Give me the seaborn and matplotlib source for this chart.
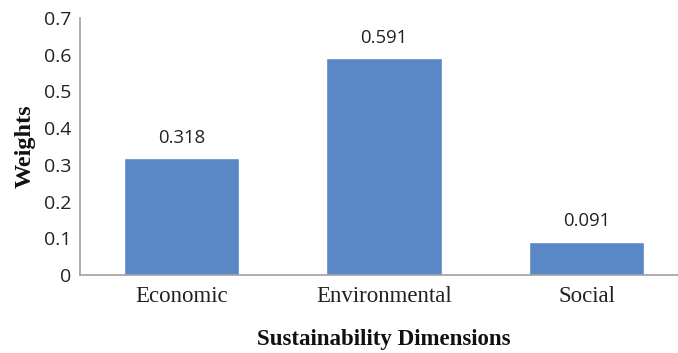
import matplotlib
matplotlib.use("Agg")
import matplotlib.pyplot as plt
import seaborn as sns
import pandas as pd

categories = ["Economic", "Environmental", "Social"]
weights = [0.318, 0.591, 0.091]
value_labels = ["0.318", "0.591", "0.091"]
yticks = [0, 0.1, 0.2, 0.3, 0.4, 0.5, 0.6, 0.7]
ytick_labels = ["0", "0.1", "0.2", "0.3", "0.4", "0.5", "0.6", "0.7"]

df = pd.DataFrame({"Dimension": categories, "Weight": weights})

sns.set_theme(style="white")
fig = plt.figure(figsize=(6.78, 3.53), dpi=100)
ax = fig.add_axes([80/678, 1 - 275/353, (688-80)/678, (275-18)/353])

sns.barplot(data=df, x="Dimension", y="Weight", color="#5A87C6", width=0.57,
            saturation=1, ax=ax)

for p, lab in zip(ax.patches, value_labels):
    ax.annotate(lab, (p.get_x() + p.get_width()/2, p.get_height()),
                xytext=(0, 8), textcoords="offset points", ha="center", va="bottom",
                fontsize=13.3, family="Open Sans", color="#222222")

ax.set_ylim(0, 0.7)
ax.set_xlim(-0.5, 2.5)
ax.set_yticks(yticks)
ax.set_yticklabels(ytick_labels, family="Open Sans", fontsize=14, color="#222222")
ax.set_xticks(range(len(categories)))
ax.set_xticklabels(categories, family="Liberation Serif", fontsize=16.5, color="#222222")
ax.tick_params(axis="both", length=0)
ax.tick_params(axis="y", pad=6)
ax.tick_params(axis="x", pad=8)

for s in ["top", "right"]:
    ax.spines[s].set_visible(False)
for s in ["left", "bottom"]:
    ax.spines[s].set_color("#A0A0A0")
    ax.spines[s].set_linewidth(1.2)

ax.set_ylabel("Weights", family="Liberation Serif", fontweight="bold", fontsize=17.5,
              labelpad=6, color="#111111")
ax.set_xlabel("Sustainability Dimensions", family="Liberation Serif", fontweight="bold",
              fontsize=16.5, labelpad=16, color="#111111")

fig.savefig("out.png", dpi=100, facecolor="white")
